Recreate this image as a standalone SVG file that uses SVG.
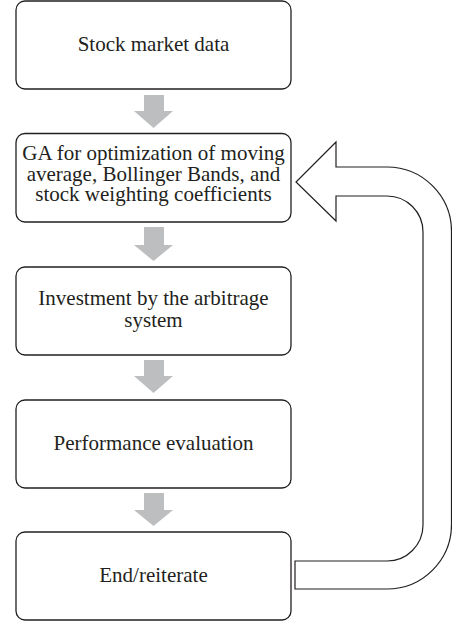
<svg xmlns="http://www.w3.org/2000/svg" width="452" height="625" viewBox="0 0 452 625">
<style>
.box{fill:#fff;stroke:#231f20;stroke-width:1.3}
.t{font-family:"Liberation Serif","Times New Roman",serif;font-size:21px;fill:#231f20;text-anchor:middle}
.ga{fill:#bcbec0}
.loop{fill:#fff;stroke:#231f20;stroke-width:1.2;stroke-linejoin:miter}
</style>
<rect width="452" height="625" fill="#fff"/>
<g id="connectors">
<path class="ga" d="M144,95 H164 V111 H173 L153.5,128 L134,111 H144 Z"/>
<path class="ga" d="M144,227 H164 V245 H173 L153.5,261 L134,245 H144 Z"/>
<path class="ga" d="M144,360 H164 V376 H173 L153.5,393 L134,376 H144 Z"/>
<path class="ga" d="M144,493 H164 V510 H173 L153.5,526 L134,510 H144 Z"/>
<path class="loop" d="M295,561 H387 A36,36 0 0 0 423,525 V232 A36,36 0 0 0 387,196 H336 V221 L296,182 L336,142 V167 H387 A64.5,64.5 0 0 1 451.5,231.5 V524.5 A64.5,64.5 0 0 1 387,589 H295 Z"/>
</g>
<g id="n1">
<rect class="box" x="16" y="1" width="275" height="88" rx="9"/>
<text class="t" x="153.5" y="51">Stock market data</text>
</g>
<g id="n2">
<rect class="box" x="16" y="133.5" width="275" height="88.5" rx="9"/>
<text class="t" x="153.5" y="160">GA for optimization of moving</text>
<text class="t" x="153.5" y="180.5">average, Bollinger Bands, and</text>
<text class="t" x="153.5" y="201">stock weighting coefficients</text>
</g>
<g id="n3">
<rect class="box" x="16" y="267" width="275" height="88" rx="9"/>
<text class="t" x="153.5" y="305">Investment by the arbitrage</text>
<text class="t" x="153.5" y="327">system</text>
</g>
<g id="n4">
<rect class="box" x="16" y="400" width="275" height="88" rx="9"/>
<text class="t" x="153.5" y="450">Performance evaluation</text>
</g>
<g id="n5">
<rect class="box" x="16" y="532" width="275" height="88" rx="9"/>
<text class="t" x="153.5" y="582">End/reiterate</text>
</g>
</svg>
